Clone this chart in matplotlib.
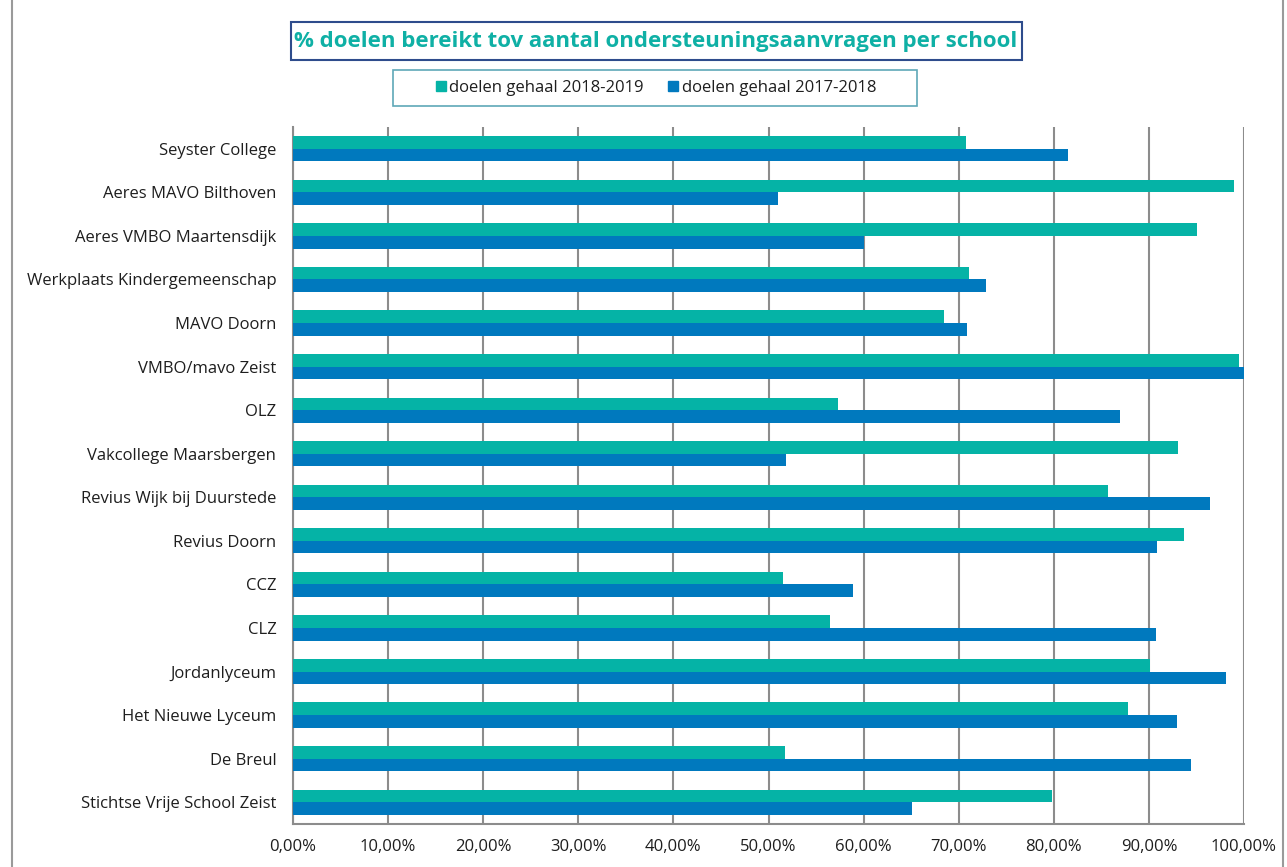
import matplotlib
matplotlib.use("Agg")
import matplotlib.pyplot as plt
from matplotlib.patches import Rectangle
from matplotlib.lines import Line2D
from matplotlib.ticker import FuncFormatter
import numpy as np

schools = ["Seyster College", "Aeres MAVO Bilthoven", "Aeres VMBO Maartensdijk",
           "Werkplaats Kindergemeenschap", "MAVO Doorn", "VMBO/mavo Zeist", "OLZ",
           "Vakcollege Maarsbergen", "Revius Wijk bij Duurstede", "Revius Doorn",
           "CCZ", "CLZ", "Jordanlyceum", "Het Nieuwe Lyceum", "De Breul",
           "Stichtse Vrije School Zeist"]
doelen_2018_2019 = [70.8, 98.9, 95.1, 71.1, 68.5, 99.5, 57.3, 93.1, 85.7, 93.7,
                    51.5, 56.5, 90.1, 87.8, 51.7, 79.8]
doelen_2017_2018 = [81.5, 51.0, 60.0, 72.9, 70.9, 100.0, 87.0, 51.8, 96.4, 90.9,
                    58.9, 90.7, 98.1, 93.0, 94.4, 65.1]
series_labels = ["doelen gehaal 2018-2019", "doelen gehaal 2017-2018"]
title = "% doelen bereikt tov aantal ondersteuningsaanvragen per school"

TEAL = "#05B3A6"
BLUE = "#0079BE"
GRID = "#8C8C8C"
FONT = "Open Sans"

W, H = 1287, 867
fig = plt.figure(figsize=(W / 100, H / 100), dpi=100)

def fx(px):
    return px / W

def fy(py):
    return 1 - py / H

# outer chart border
fig.add_artist(Line2D([fx(12), fx(12)], [0, 1], color="#9A9A9A", lw=1.5, transform=fig.transFigure))
fig.add_artist(Line2D([fx(1283), fx(1283)], [0, 1], color="#9A9A9A", lw=1.5, transform=fig.transFigure))

ax = fig.add_axes([fx(293), fy(824), fx(1244) - fx(293), fy(127) - fy(824)])
n = len(schools)
y = np.arange(n)
h = 0.29
ax.barh(y - h / 2, doelen_2018_2019, height=h, color=TEAL, label=series_labels[0], zorder=3)
ax.barh(y + h / 2, doelen_2017_2018, height=h, color=BLUE, label=series_labels[1], zorder=3)

ax.set_xlim(0, 100)
ax.set_ylim(n - 0.5, -0.5)
ax.set_xticks(np.arange(0, 101, 10))
ax.xaxis.set_major_formatter(FuncFormatter(lambda v, p: f"{v:.2f}%".replace(".", ",")))
ax.set_yticks(y)
ax.set_yticklabels(schools)
ax.grid(axis="x", color=GRID, lw=1.5, zorder=0)
ax.tick_params(axis="both", length=0, labelsize=12, colors="#1E1E1E")
ax.tick_params(axis="y", pad=12)
ax.tick_params(axis="x", pad=11)
for lab in ax.get_xticklabels() + ax.get_yticklabels():
    lab.set_fontfamily(FONT)
for s in ["top", "right"]:
    ax.spines[s].set_visible(False)
for s in ["left", "bottom"]:
    ax.spines[s].set_color(GRID)
    ax.spines[s].set_linewidth(1.5)

# title box
fig.add_artist(Rectangle((fx(291), fy(60)), fx(1022) - fx(291), fy(22) - fy(60),
                         transform=fig.transFigure, fill=False, edgecolor="#2E4C8C", lw=1.5))
fig.text(fx(656), fy(41), title, ha="center", va="center", fontsize=16,
         fontweight="bold", color="#0FB0A5", family=FONT)

# legend box
fig.add_artist(Rectangle((fx(393), fy(106)), fx(917) - fx(393), fy(70) - fy(106),
                         transform=fig.transFigure, fill=False, edgecolor="#5FA8B8", lw=1.2))
handles = [Line2D([], [], marker="s", ls="", color=TEAL, markersize=7),
           Line2D([], [], marker="s", ls="", color=BLUE, markersize=7)]
leg = fig.legend(handles, series_labels, loc="center", bbox_to_anchor=(fx(655), fy(88)),
                 ncol=2, frameon=False, prop={"family": FONT, "size": 12},
                 handletextpad=0.1, columnspacing=1.4, handlelength=0.8)
for t in leg.get_texts():
    t.set_color("#1E1E1E")

fig.savefig("out.png", dpi=100)
